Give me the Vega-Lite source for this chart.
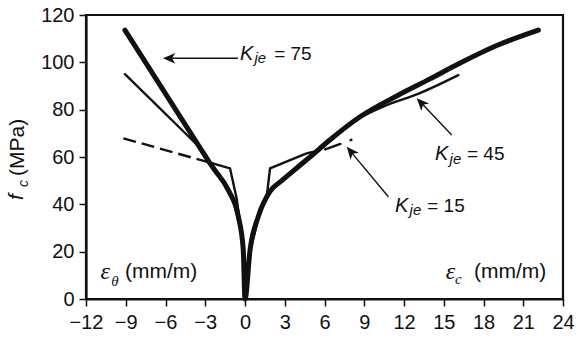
{
  "$schema": "https://vega.github.io/schema/vega-lite/v6.json",
  "width": 477,
  "height": 284,
  "autosize": {"type": "none"},
  "padding": {"left": 86, "top": 15, "right": 14, "bottom": 48},
  "background": "white",
  "config": {
    "view": {"stroke": "#111", "strokeWidth": 2.2},
    "font": "Liberation Sans",
    "axis": {
      "domainColor": "#111", "domainWidth": 2.2, "tickColor": "#111", "tickWidth": 1.5, "tickSize": 7,
      "labelFont": "Liberation Sans", "labelFontSize": 20, "labelColor": "#111", "grid": false, "title": null,
      "labelOverlap": false, "labelFlush": false
    }
  },
  "datasets": {
    "curves": [
      {"s": "75", "x": -9.06, "y": 113.6}, {"s": "75", "x": -3.2, "y": 62.2}, {"s": "75", "x": -2.64, "y": 57.3}, {"s": "75", "x": -2.26, "y": 54.3},
      {"s": "75", "x": -1.26, "y": 46}, {"s": "75", "x": -0.5, "y": 34.8}, {"s": "75", "x": -0.13, "y": 20.7},
      {"s": "75", "x": 0, "y": 0}, {"s": "75", "x": 0.38, "y": 20.7}, {"s": "75", "x": 1.0, "y": 34.8},
      {"s": "75", "x": 1.89, "y": 45.5}, {"s": "75", "x": 2.77, "y": 50}, {"s": "75", "x": 3.4, "y": 53},
      {"s": "75", "x": 4.9, "y": 60}, {"s": "75", "x": 6.42, "y": 67.3}, {"s": "75", "x": 8.68, "y": 77},
      {"s": "75", "x": 11.45, "y": 85.8}, {"s": "75", "x": 13.96, "y": 93.0}, {"s": "75", "x": 16.2, "y": 99.6},
      {"s": "75", "x": 19.0, "y": 107.1}, {"s": "75", "x": 22.14, "y": 113.6},
      {"s": "45", "x": -9.06, "y": 95}, {"s": "45", "x": -3.7, "y": 65.6}, {"s": "45", "x": -3.3, "y": 63.4}, {"s": "45", "x": -2.6, "y": 56.8},
      {"s": "45", "x": -2.0, "y": 52}, {"s": "45", "x": -1.3, "y": 46.3}, {"s": "45", "x": -0.6, "y": 35.5},
      {"s": "45", "x": -0.15, "y": 20.5}, {"s": "45", "x": 0, "y": 0}, {"s": "45", "x": 0.36, "y": 20.5},
      {"s": "45", "x": 0.95, "y": 34.5}, {"s": "45", "x": 1.85, "y": 45}, {"s": "45", "x": 2.77, "y": 49.7},
      {"s": "45", "x": 3.4, "y": 52.6}, {"s": "45", "x": 4.9, "y": 59.6}, {"s": "45", "x": 6.42, "y": 66.8},
      {"s": "45", "x": 8.68, "y": 76.5}, {"s": "45", "x": 10.4, "y": 81.2}, {"s": "45", "x": 13.2, "y": 87},
      {"s": "45", "x": 16.1, "y": 94.6},
      {"s": "15", "x": -2.64, "y": 57.6}, {"s": "15", "x": -1.13, "y": 55.2}, {"s": "15", "x": -0.63, "y": 42.5},
      {"s": "15", "x": -0.45, "y": 35}, {"s": "15", "x": -0.12, "y": 20}, {"s": "15", "x": 0, "y": 0},
      {"s": "15", "x": 0.38, "y": 20}, {"s": "15", "x": 1.0, "y": 34}, {"s": "15", "x": 1.64, "y": 43.2},
      {"s": "15", "x": 1.89, "y": 55.2}, {"s": "15", "x": 3.4, "y": 58.7}, {"s": "15", "x": 4.65, "y": 61.5},
      {"s": "15", "x": 5.6, "y": 62.8},
      {"s": "15b", "x": 6.05, "y": 63.2}, {"s": "15b", "x": 7.2, "y": 65.5},
      {"s": "15c", "x": 7.97, "y": 67.1}, {"s": "15c", "x": 8.03, "y": 67.25},
      {"s": "15L", "x": -9.18, "y": 67.9}, {"s": "15L", "x": -2.64, "y": 57.6}
    ],
    "shafts": [
      {"a": "75", "x": -0.53, "y": 101.7}, {"a": "75", "x": -5.81, "y": 101.7},
      {"a": "45", "x": 15.6, "y": 69.3}, {"a": "45", "x": 13.22, "y": 83.3},
      {"a": "15", "x": 10.82, "y": 43.2}, {"a": "15", "x": 7.92, "y": 62.7}
    ],
    "heads": [
      {"a": "75", "x": -6.19, "y": 101.7},
      {"a": "45", "x": 12.96, "y": 84.8},
      {"a": "15", "x": 7.68, "y": 64.3}
    ],
    "labels": [
      {"p": "K", "t": "K", "x": -0.38, "y": 101.0},
      {"p": "sub", "t": "je", "x": 0.72, "y": 99.6},
      {"p": "eq", "t": "= 75", "x": 2.2, "y": 101.0},
      {"p": "K", "t": "K", "x": 14.34, "y": 58.7},
      {"p": "sub", "t": "je", "x": 15.44, "y": 57.2},
      {"p": "eq", "t": "= 45", "x": 16.75, "y": 58.7},
      {"p": "K", "t": "K", "x": 11.32, "y": 36.9},
      {"p": "sub", "t": "je", "x": 12.42, "y": 35.4},
      {"p": "eq", "t": "= 15", "x": 13.75, "y": 36.9},
      {"p": "eps", "t": "ε", "x": -10.9, "y": 8.45},
      {"p": "epssub", "t": "θ", "x": -10.1, "y": 5.5},
      {"p": "unit", "t": "(mm/m)", "x": -9.06, "y": 8.87},
      {"p": "eps", "t": "ε", "x": 15.15, "y": 8.45},
      {"p": "epssub", "t": "c", "x": 15.85, "y": 6.34},
      {"p": "unit", "t": "(mm/m)", "x": 17.28, "y": 8.87},
      {"p": "yf", "t": "f", "x": -16.75, "y": 41.8},
      {"p": "yfsub", "t": "c", "x": -16.38, "y": 47.3},
      {"p": "yunit", "t": "(MPa)", "x": -16.68, "y": 52.0}
    ]
  },
  "encoding": {
    "x": {
      "field": "x", "type": "quantitative",
      "scale": {"domain": [-12, 24], "nice": false, "zero": false},
      "axis": {"values": [-12, -9, -6, -3, 0, 3, 6, 9, 12, 15, 18, 21, 24], "labelPadding": 6}
    },
    "y": {
      "field": "y", "type": "quantitative",
      "scale": {"domain": [0, 120], "nice": false, "zero": false},
      "axis": {"values": [0, 20, 40, 60, 80, 100, 120], "labelPadding": 5}
    }
  },
  "layer": [
    {
      "data": {"name": "curves"},
      "transform": [{"filter": "datum.s === '75'"}],
      "mark": {"type": "line", "stroke": "#111", "strokeWidth": 5, "strokeCap": "round", "strokeJoin": "round", "interpolate": "monotone"},
      "encoding": {"detail": {"field": "s"}}
    },
    {
      "data": {"name": "curves"},
      "transform": [{"filter": "datum.s === '45'"}],
      "mark": {"type": "line", "stroke": "#111", "strokeWidth": 2.4, "strokeCap": "round", "strokeJoin": "round", "interpolate": "monotone"},
      "encoding": {"detail": {"field": "s"}}
    },
    {
      "data": {"name": "curves"},
      "transform": [{"filter": "datum.s === '15' || datum.s === '15b' || datum.s === '15c'"}],
      "mark": {"type": "line", "stroke": "#111", "strokeWidth": 2.4, "strokeCap": "round", "strokeJoin": "miter"},
      "encoding": {"detail": {"field": "s"}}
    },
    {
      "data": {"name": "curves"},
      "transform": [{"filter": "datum.s === '15L'"}],
      "mark": {"type": "line", "stroke": "#111", "strokeWidth": 2.4, "strokeDash": [13, 6]},
      "encoding": {"detail": {"field": "s"}}
    },
    {
      "data": {"name": "shafts"},
      "mark": {"type": "line", "stroke": "#111", "strokeWidth": 1.4},
      "encoding": {"detail": {"field": "a"}}
    },
    {
      "data": {"name": "heads"},
      "transform": [{"filter": "datum.a === '75'"}],
      "mark": {"type": "point", "shape": "M0,0 L0.75,1.7 L0,1.25 L-0.75,1.7 Z", "filled": true, "fill": "#111", "opacity": 1, "size": 210, "angle": 270, "strokeWidth": 0}
    },
    {
      "data": {"name": "heads"},
      "transform": [{"filter": "datum.a === '45'"}],
      "mark": {"type": "point", "shape": "M0,0 L0.75,1.7 L0,1.25 L-0.75,1.7 Z", "filled": true, "fill": "#111", "opacity": 1, "size": 210, "angle": 316, "strokeWidth": 0}
    },
    {
      "data": {"name": "heads"},
      "transform": [{"filter": "datum.a === '15'"}],
      "mark": {"type": "point", "shape": "M0,0 L0.75,1.7 L0,1.25 L-0.75,1.7 Z", "filled": true, "fill": "#111", "opacity": 1, "size": 210, "angle": 320, "strokeWidth": 0}
    },
    {
      "data": {"name": "labels"},
      "transform": [{"filter": "datum.p === 'K'"}],
      "mark": {"type": "text", "align": "left", "baseline": "alphabetic", "font": "Liberation Sans", "fontSize": 20, "fontStyle": "italic", "fill": "#111"},
      "encoding": {"text": {"field": "t"}}
    },
    {
      "data": {"name": "labels"},
      "transform": [{"filter": "datum.p === 'sub'"}],
      "mark": {"type": "text", "align": "left", "baseline": "alphabetic", "font": "Liberation Sans", "fontSize": 15, "fontStyle": "italic", "fill": "#111"},
      "encoding": {"text": {"field": "t"}}
    },
    {
      "data": {"name": "labels"},
      "transform": [{"filter": "datum.p === 'eq'"}],
      "mark": {"type": "text", "align": "left", "baseline": "alphabetic", "font": "Liberation Sans", "fontSize": 19, "fill": "#111"},
      "encoding": {"text": {"field": "t"}}
    },
    {
      "data": {"name": "labels"},
      "transform": [{"filter": "datum.p === 'eps'"}],
      "mark": {"type": "text", "align": "left", "baseline": "alphabetic", "font": "Liberation Serif", "fontSize": 24, "fontStyle": "italic", "fill": "#111"},
      "encoding": {"text": {"field": "t"}}
    },
    {
      "data": {"name": "labels"},
      "transform": [{"filter": "datum.p === 'epssub'"}],
      "mark": {"type": "text", "align": "left", "baseline": "alphabetic", "font": "Liberation Serif", "fontSize": 15, "fontStyle": "italic", "fill": "#111"},
      "encoding": {"text": {"field": "t"}}
    },
    {
      "data": {"name": "labels"},
      "transform": [{"filter": "datum.p === 'unit'"}],
      "mark": {"type": "text", "align": "left", "baseline": "alphabetic", "font": "Liberation Sans", "fontSize": 21, "fill": "#111"},
      "encoding": {"text": {"field": "t"}}
    },
    {
      "data": {"name": "labels"},
      "transform": [{"filter": "datum.p === 'yf'"}],
      "mark": {"type": "text", "align": "left", "baseline": "alphabetic", "angle": 270, "font": "Liberation Sans", "fontSize": 21, "fontStyle": "italic", "fill": "#111"},
      "encoding": {"text": {"field": "t"}}
    },
    {
      "data": {"name": "labels"},
      "transform": [{"filter": "datum.p === 'yfsub'"}],
      "mark": {"type": "text", "align": "left", "baseline": "alphabetic", "angle": 270, "font": "Liberation Sans", "fontSize": 14, "fontStyle": "italic", "fill": "#111"},
      "encoding": {"text": {"field": "t"}}
    },
    {
      "data": {"name": "labels"},
      "transform": [{"filter": "datum.p === 'yunit'"}],
      "mark": {"type": "text", "align": "left", "baseline": "alphabetic", "angle": 270, "font": "Liberation Sans", "fontSize": 21, "fill": "#111"},
      "encoding": {"text": {"field": "t"}}
    }
  ]
}
